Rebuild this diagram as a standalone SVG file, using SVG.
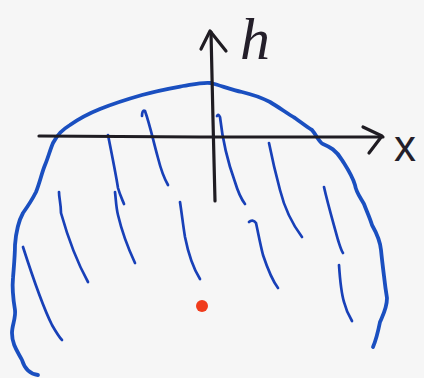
<svg xmlns="http://www.w3.org/2000/svg" width="424" height="378" viewBox="0 0 424 378">
<style>
.ink{fill:none;stroke:#1f1c22;stroke-width:3.2;stroke-linecap:round;stroke-linejoin:round}
.outline{fill:none;stroke:#1a4fc0;stroke-width:3.8;stroke-linecap:round;stroke-linejoin:round}
.hatch{fill:none;stroke:#1840b8;stroke-width:2.7;stroke-linecap:round;stroke-linejoin:round}
.lbl{fill:#241f2a;font-family:"Liberation Sans",Arial,sans-serif}
</style>
<rect width="424" height="378" fill="#f6f6f6"/>
<g id="outline">
<path class="outline" d="M38,375 C30,374 25,370 22,360 C18,352 12,345 12,333 C12,325 16,318 15,310 C13,298 12,288 13,278 C14,265 15,255 15,245 C16,232 18,222 23,213 C28,206 32,200 36,192 C40,182 42,172 45,165 C48,158 50,150 53,143 C58,134 62,130 70,125 C80,118 90,113 100,109 C115,103 128,99 142,95 C160,90 172,88 183,86 C195,84 203,82 211,83 C222,86 232,90 242,92 C255,95 262,98 270,102 C280,108 288,114 295,118 C302,123 307,127 312,130 C317,136 319,142 323,144 C330,147 336,150 342,160 C347,168 352,175 355,185 C356,192 360,197 364,204 C367,212 370,218 372,225 C376,232 380,240 381,250 C382,260 383,268 384,276 C385,285 386,292 387,298 C387,308 383,315 380,322 C378,332 376,340 373,347"/>
</g>
<g id="hatching">
<path class="hatch" d="M108,135 C112,155 116,175 118,188 C120,195 122,199 124,204"/>
<path class="hatch" d="M142,116 C142,112 143,110 145,111 C150,125 153,140 158,158 C161,170 164,178 168,185"/>
<path class="hatch" d="M217,116 C218,114 219,115 220,117 C222,135 227,160 235,182 C238,192 242,200 245,204"/>
<path class="hatch" d="M269,143 C272,158 276,175 280,190 C285,210 293,225 302,237"/>
<path class="hatch" d="M324,187 C328,205 334,225 338,240 C340,246 341,250 343,253"/>
<path class="hatch" d="M59,192 C59,198 61,204 61,213 C68,238 77,262 88,282"/>
<path class="hatch" d="M23,247 C32,275 42,305 52,325 C56,332 59,337 62,340"/>
<path class="hatch" d="M115,192 C116,200 116,207 118,215 C122,232 128,248 135,263"/>
<path class="hatch" d="M180,202 C182,215 183,225 185,237 C188,252 193,268 200,279"/>
<path class="hatch" d="M249,222 C251,220 254,220 256,223 C258,232 260,243 263,255 C268,270 272,280 278,288"/>
<path class="hatch" d="M339,265 C340,280 341,292 344,302 C346,310 349,316 352,321"/>
</g>
<g id="connectors">
<path class="ink" d="M215,201 L213,120 L211,32"/>
<path class="ink" d="M201,49 L210,31 L226,51"/>
<path class="ink" d="M39,136 L200,137 L383,137"/>
<path class="ink" d="M363,127 L382,136 L369,153"/>
</g>
<g id="label-h">
<text class="lbl" x="240" y="59" font-size="60" font-style="italic" style="font-family:'Liberation Serif',serif">h</text>
</g>
<g id="label-x">
<text class="lbl" x="394" y="161" font-size="44">x</text>
</g>
<g id="point">
<circle cx="202" cy="306" r="6" fill="#f03c1c"/>
</g>
</svg>
